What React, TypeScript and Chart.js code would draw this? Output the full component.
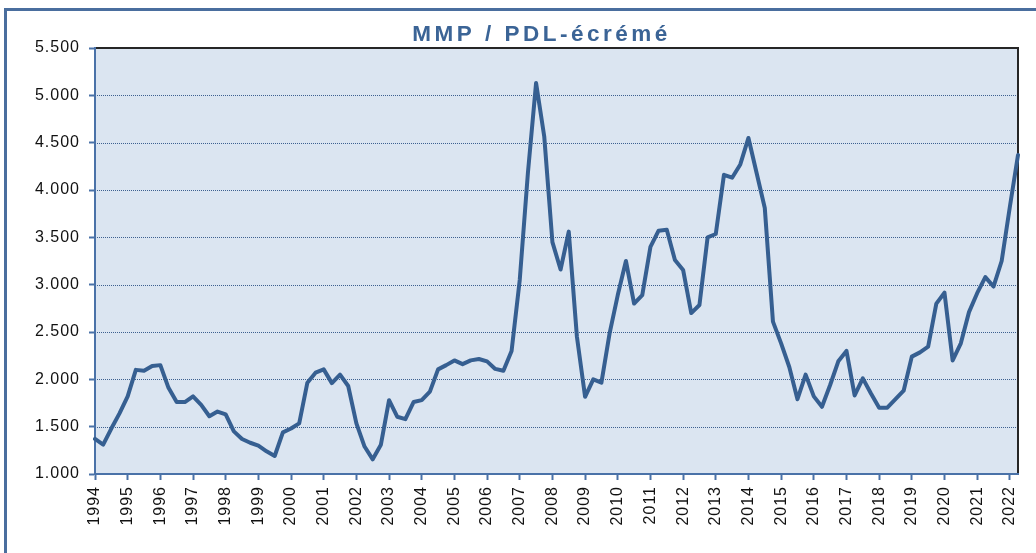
import React, { useEffect, useRef } from 'react';
import { Chart, registerables } from 'chart.js';

Chart.register(...registerables);

const chartTitle = 'MMP / PDL-écrémé';

const years = [
  '1994', '1995', '1996', '1997', '1998', '1999', '2000', '2001', '2002', '2003',
  '2004', '2005', '2006', '2007', '2008', '2009', '2010', '2011', '2012', '2013',
  '2014', '2015', '2016', '2017', '2018', '2019', '2020', '2021', '2022',
];

const quarters = ['T1', 'T2', 'T3', 'T4'];

// ratio MMP / PDL-écrémé, quarterly, 1994 T1 .. 2022 T2
const ratioValues = [
  1.37, 1.31, 1.48, 1.64, // 1994
  1.82, 2.10, 2.09, 2.14, // 1995
  2.15, 1.91, 1.76, 1.76, // 1996
  1.82, 1.73, 1.61, 1.66, // 1997
  1.63, 1.45, 1.37, 1.33, // 1998
  1.30, 1.24, 1.19, 1.44, // 1999
  1.48, 1.535, 1.965, 2.07, // 2000
  2.105, 1.96, 2.05, 1.93, // 2001
  1.535, 1.29, 1.155, 1.31, // 2002
  1.78, 1.605, 1.58, 1.76, // 2003
  1.78, 1.87, 2.105, 2.15, // 2004
  2.20, 2.16, 2.20, 2.215, // 2005
  2.19, 2.11, 2.09, 2.30, // 2006
  3.05, 4.18, 5.13, 4.565, // 2007
  3.45, 3.16, 3.56, 2.45, // 2008
  1.815, 2.00, 1.965, 2.485, // 2009
  2.89, 3.25, 2.80, 2.89, // 2010
  3.40, 3.57, 3.58, 3.26, // 2011
  3.155, 2.70, 2.785, 3.50, // 2012
  3.535, 4.16, 4.13, 4.27, // 2013
  4.55, 4.18, 3.81, 2.61, // 2014
  2.38, 2.13, 1.79, 2.05, // 2015
  1.82, 1.71, 1.94, 2.19, // 2016
  2.30, 1.83, 2.01, 1.85, // 2017
  1.70, 1.70, 1.79, 1.88, // 2018
  2.24, 2.285, 2.345, 2.80, // 2019
  2.915, 2.20, 2.38, 2.71, // 2020
  2.91, 3.08, 2.98, 3.25, // 2021
  3.82, 4.37, // 2022
];

const yTickValues = [1, 1.5, 2, 2.5, 3, 3.5, 4, 4.5, 5, 5.5];
const yTickLabels = ['1.000', '1.500', '2.000', '2.500', '3.000', '3.500', '4.000', '4.500', '5.000', '5.500'];

const categoryLabels = years
  .flatMap((y) => quarters.map((q) => `${y} ${q}`))
  .slice(0, ratioValues.length);

const FONT = '"Liberation Sans", Arial, sans-serif';
const AXIS_BLUE = '#4a72a8';
const LINE_BLUE = '#365f91';
const GRID_BLUE = '#3d6090';
const PLOT_BG = '#dbe5f1';
const TITLE_BLUE = '#3b6496';
const FRAME_BLUE = '#4a6e9e';

const decorPlugin = {
  id: 'decor',
  beforeDraw(chart: any) {
    const { ctx, chartArea: a } = chart;
    ctx.save();
    // outer frame
    ctx.strokeStyle = FRAME_BLUE;
    ctx.lineWidth = 3;
    ctx.strokeRect(5.5, 9.5, chart.width + 60, chart.height + 60);
    // plot background
    ctx.fillStyle = PLOT_BG;
    ctx.fillRect(a.left, a.top, a.right - a.left, a.bottom - a.top);
    // dotted horizontal grid lines
    const ys = chart.scales.y;
    ctx.setLineDash([1, 1]);
    ctx.lineWidth = 1;
    ctx.strokeStyle = GRID_BLUE;
    ys.ticks.forEach((t: any) => {
      if (t.value <= ys.min || t.value >= ys.max) return;
      const y = Math.round(ys.getPixelForValue(t.value)) + 0.5;
      ctx.beginPath();
      ctx.moveTo(a.left, y);
      ctx.lineTo(a.right, y);
      ctx.stroke();
    });
    ctx.setLineDash([]);
    // dark top and right border of the plot area
    ctx.strokeStyle = '#262626';
    ctx.lineWidth = 2;
    ctx.beginPath();
    ctx.moveTo(a.left, a.top);
    ctx.lineTo(a.right, a.top);
    ctx.lineTo(a.right, a.bottom);
    ctx.stroke();
    ctx.restore();
    ctx.letterSpacing = '1px';
  },
  afterDraw(chart: any) {
    const { ctx } = chart;
    ctx.save();
    ctx.letterSpacing = '3.5px';
    ctx.font = `bold 22.5px ${FONT}`;
    ctx.fillStyle = TITLE_BLUE;
    ctx.textAlign = 'center';
    ctx.textBaseline = 'alphabetic';
    ctx.fillText(chartTitle, 541.5, 41);
    ctx.restore();
  },
};

export default function App() {
  const canvasRef = useRef<HTMLCanvasElement | null>(null);

  useEffect(() => {
    if (!canvasRef.current) return;
    const chart = new Chart(canvasRef.current, {
      type: 'line',
      data: {
        labels: categoryLabels,
        datasets: [
          {
            label: chartTitle,
            data: ratioValues,
            borderColor: LINE_BLUE,
            borderWidth: 4,
            borderJoinStyle: 'round',
            borderCapStyle: 'round',
            pointRadius: 0,
            tension: 0,
            fill: false,
          },
        ],
      },
      options: {
        responsive: false,
        animation: false,
        layout: { padding: { top: 48, right: 18, left: 0, bottom: 0 } },
        plugins: {
          legend: { display: false },
          title: { display: false },
          tooltip: { enabled: false },
        },
        scales: {
          x: {
            type: 'category',
            offset: false,
            grid: {
              drawOnChartArea: false,
              drawTicks: true,
              tickLength: 6,
              tickWidth: 2,
              tickColor: AXIS_BLUE,
              color: AXIS_BLUE,
            },
            border: { color: AXIS_BLUE, width: 2 },
            ticks: {
              autoSkip: false,
              minRotation: 90,
              maxRotation: 90,
              padding: 6,
              color: '#111',
              font: { family: FONT, size: 16 },
              callback: (value: any) => categoryLabels[value].slice(0, 4),
            },
            afterBuildTicks: (scale: any) => {
              scale.ticks = scale.ticks.filter((t: any) => t.value % 4 === 0);
            },
            afterFit: (scale: any) => {
              scale.height = 79;
            },
          },
          y: {
            min: 1,
            max: 5.5,
            afterBuildTicks: (scale: any) => {
              scale.ticks = yTickValues.map((v) => ({ value: v }));
            },
            grid: {
              drawOnChartArea: false,
              drawTicks: true,
              tickLength: 6,
              tickWidth: 2,
              tickColor: AXIS_BLUE,
              color: AXIS_BLUE,
            },
            border: { color: AXIS_BLUE, width: 2 },
            ticks: {
              padding: 9,
              color: '#111',
              font: { family: FONT, size: 16 },
              callback: (value: any) => {
                const idx = yTickValues.indexOf(Number(value));
                return idx >= 0 ? yTickLabels[idx] : '';
              },
            },
            afterFit: (scale: any) => {
              scale.width = 95;
            },
          },
        },
      },
      plugins: [decorPlugin],
    });
    return () => chart.destroy();
  }, []);

  return (
    <div style={{ position: 'absolute', left: 0, top: 0, width: 1036, height: 553, background: '#fff' }}>
      <canvas ref={canvasRef} width={1036} height={553} style={{ display: 'block' }} />
    </div>
  );
}
